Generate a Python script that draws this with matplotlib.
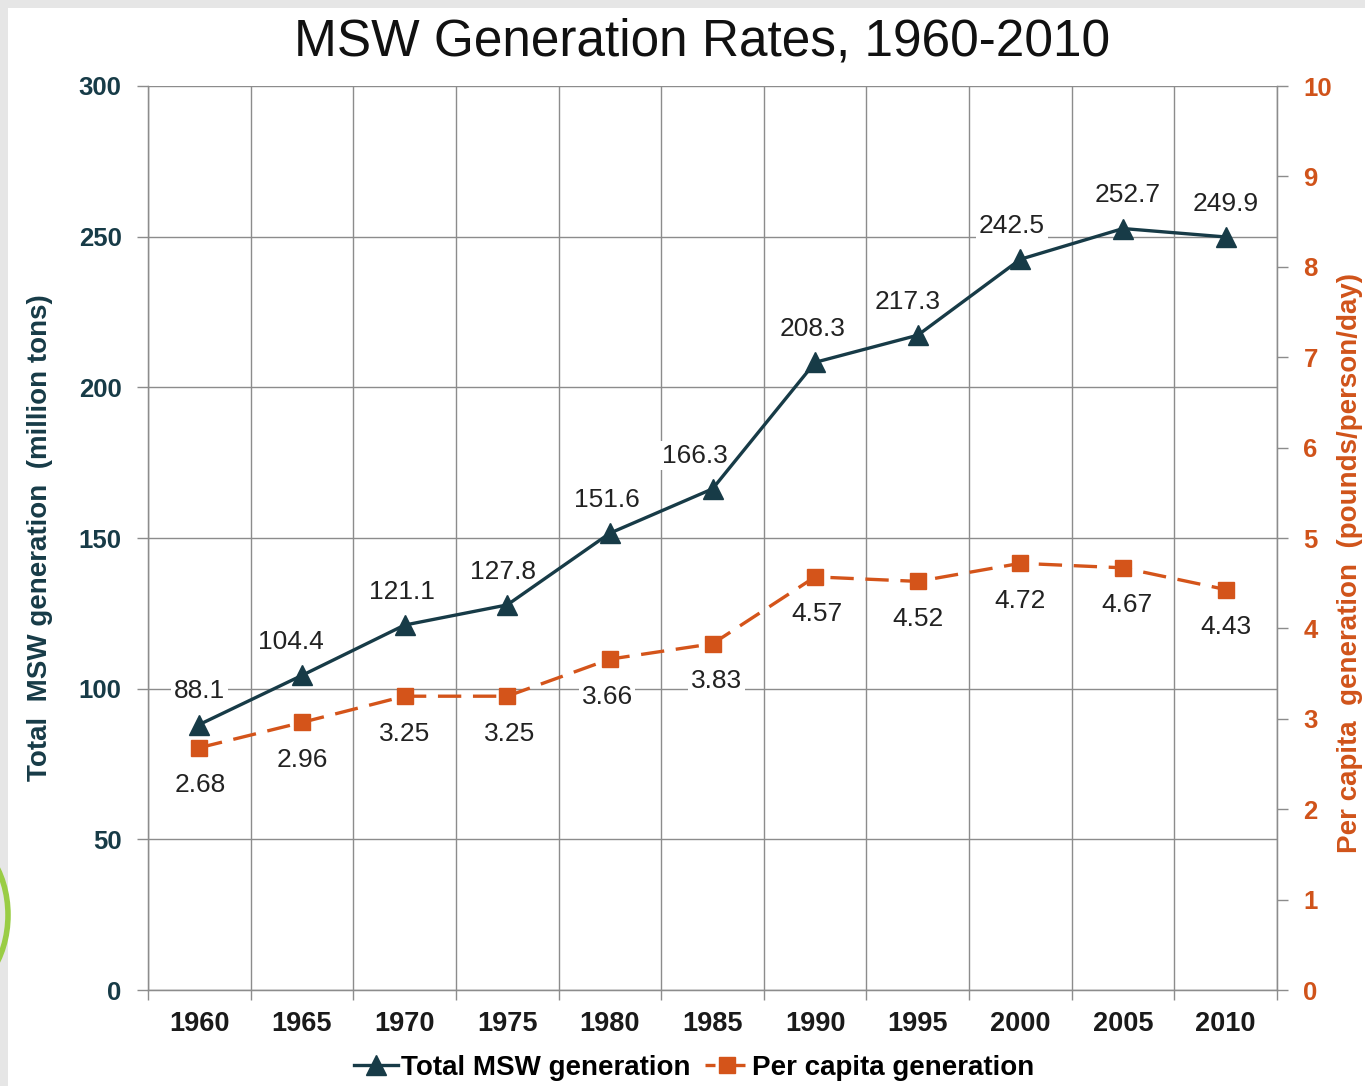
import matplotlib
matplotlib.use("Agg")
import matplotlib.pyplot as plt
from matplotlib.patches import Rectangle, Ellipse
from matplotlib.lines import Line2D

plt.rcParams['font.family'] = ['Liberation Sans', 'DejaVu Sans']

years = ["1960", "1965", "1970", "1975", "1980", "1985", "1990", "1995", "2000", "2005", "2010"]
total_msw = [88.1, 104.4, 121.1, 127.8, 151.6, 166.3, 208.3, 217.3, 242.5, 252.7, 249.9]
per_capita = [2.68, 2.96, 3.25, 3.25, 3.66, 3.83, 4.57, 4.52, 4.72, 4.67, 4.43]
left_ticks = [0, 50, 100, 150, 200, 250, 300]
right_ticks = [0, 1, 2, 3, 4, 5, 6, 7, 8, 9, 10]

# horizontal nudges of the data labels (points), styling only
total_dx = [0, -8, -2, -3, -2, -13, -2, -7, -6, 3, 0]
capita_dx = [1, 0, 0, 2, -2, 3, 1, 0, 0, 3, 0]

NAVY = "#173B47"
ORANGE = "#D4541A"
ORANGE_TXT = "#D0531A"
GRID = "#8C8C8C"

W, H = 1365, 1086
fig = plt.figure(figsize=(W / 100, H / 100), dpi=100)
fig.patch.set_facecolor("#E6E6E6")
fig.add_artist(Rectangle((8 / W, 0), 1, 1 - 8 / H, transform=fig.transFigure,
                         facecolor="white", edgecolor="none", zorder=0))
# partial logo arc at left edge
fig.add_artist(Ellipse((-52 / W, 1 - 915 / H), 120 / W, 165 / H, transform=fig.transFigure,
                       facecolor="none", edgecolor="#9ACD45", lw=4, zorder=1))

ax = fig.add_axes([148 / W, 1 - 990 / H, (1277 - 148) / W, (990 - 86) / H])
ax.set_facecolor("white")
x = list(range(len(years)))

ax.set_xlim(-0.5, len(years) - 0.5)
ax.set_ylim(0, 300)
ax.set_yticks(left_ticks)
ax.set_xticks(x)
ax.set_xticklabels(years)
ax.set_xticks([i - 0.5 for i in range(len(years) + 1)], minor=True)
ax.grid(True, axis='y', which='major', color=GRID, lw=1.0)
ax.grid(True, axis='x', which='minor', color=GRID, lw=1.0)
ax.set_axisbelow(True)
ax.tick_params(axis='x', which='major', length=0, pad=15, labelsize=19.5, labelcolor="#1a1a1a")
ax.tick_params(axis='x', which='minor', length=7, color=GRID, width=1)
ax.tick_params(axis='y', which='major', length=8, color=GRID, width=1, pad=11,
               labelsize=18.5, labelcolor=NAVY)
for lbl in ax.get_xticklabels() + ax.get_yticklabels():
    lbl.set_fontweight('bold')
for s in ['left', 'bottom', 'right', 'top']:
    ax.spines[s].set_color(GRID)
    ax.spines[s].set_linewidth(1.0)
ax.spines['top'].set_visible(False)

ax2 = ax.twinx()
ax2.set_ylim(0, 10)
ax2.set_yticks(right_ticks)
ax2.tick_params(axis='y', length=8, color=GRID, width=1, pad=11,
                labelsize=18.5, labelcolor=ORANGE_TXT)
for lbl in ax2.get_yticklabels():
    lbl.set_fontweight('bold')
for s in ['left', 'bottom', 'right', 'top']:
    ax2.spines[s].set_color(GRID)
ax2.spines['top'].set_visible(False)

ax.plot(x, total_msw, color=NAVY, lw=2.4, marker='^', markersize=15,
        markerfacecolor=NAVY, markeredgecolor=NAVY, zorder=5)
ax2.plot(x, per_capita, color=ORANGE, lw=2.4, dashes=(7, 3.5), marker='s', markersize=12,
         markerfacecolor=ORANGE, markeredgecolor=ORANGE, zorder=5)

bbox = dict(boxstyle='square,pad=0.1', facecolor='white', edgecolor='none')
for i, v in enumerate(total_msw):
    ax.annotate(f"{v}", (i, v), xytext=(total_dx[i], 24), textcoords='offset points',
                ha='center', va='center', fontsize=19, color="#222222", bbox=bbox, zorder=4)
for i, v in enumerate(per_capita):
    ax2.annotate(f"{v:.2f}", (i, v), xytext=(capita_dx[i], -27), textcoords='offset points',
                 ha='center', va='center', fontsize=19, color="#222222", bbox=bbox, zorder=4)

fig.text(40 / W, 1 - 538 / H, "Total  MSW generation  (million tons)", rotation=90,
         ha='center', va='center', fontsize=20, fontweight='bold', color=NAVY)
fig.text(1350 / W, 1 - 563 / H, "Per capita  generation  (pounds/person/day)", rotation=90,
         ha='center', va='center', fontsize=20, fontweight='bold', color=ORANGE_TXT)

fig.text(702 / W, 1 - 42 / H, "MSW Generation Rates, 1960-2010", ha='center', va='center',
         fontsize=37, color="#111111")

handles = [
    Line2D([], [], color=NAVY, lw=2.4, marker='^', markersize=14),
    Line2D([], [], color=ORANGE, lw=2.4, dashes=(3, 1.5), marker='s', markersize=11),
]
fig.legend(handles, ["Total MSW generation", "Per capita generation"],
           loc='center', bbox_to_anchor=(694 / W, 1 - 1068 / H), ncol=2, frameon=False,
           prop={'weight': 'bold', 'size': 20}, handlelength=1.6, handletextpad=0.1,
           columnspacing=0.5)

fig.savefig("out.png", dpi=100, facecolor=fig.get_facecolor())
